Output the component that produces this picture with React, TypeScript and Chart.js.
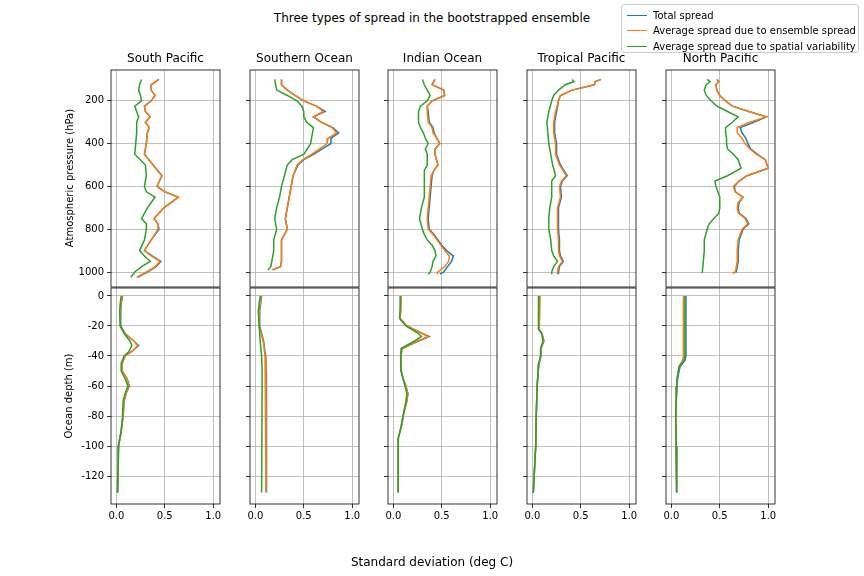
import React, { useEffect, useRef } from "react";
import { Chart, registerables } from "chart.js";
Chart.register(...registerables);

const regions = ["South Pacific", "Southern Ocean", "Indian Ocean", "Tropical Pacific", "North Pacific"];
const seriesNames = ["Total spread", "Average spread due to ensemble spread", "Average spread due to spatial variability"];
const colors = ["#1f77b4", "#ff7f0e", "#2ca02c"];
const pressureTicks = [200, 400, 600, 800, 1000];
const depthTicks = [0, -20, -40, -60, -80, -100, -120];
const xTicks = [0, 0.5, 1.0];

// ---- Atmosphere (pressure levels, hPa) ----
const spP = [100, 125, 150, 175, 200, 225, 250, 275, 300, 325, 350, 400, 450, 500, 550, 600, 625, 650, 700, 750, 775, 800, 850, 900, 925, 950, 975, 1000, 1025];
const spTotal = [0.44, 0.36, 0.36, 0.4, 0.36, 0.29, 0.3, 0.35, 0.3, 0.34, 0.32, 0.31, 0.29, 0.38, 0.47, 0.42, 0.5, 0.64, 0.49, 0.39, 0.43, 0.44, 0.36, 0.29, 0.37, 0.46, 0.41, 0.32, 0.22];
const spEns = [0.44, 0.36, 0.36, 0.4, 0.36, 0.29, 0.3, 0.35, 0.3, 0.34, 0.32, 0.31, 0.29, 0.38, 0.47, 0.42, 0.5, 0.64, 0.49, 0.39, 0.43, 0.43, 0.36, 0.29, 0.36, 0.45, 0.4, 0.31, 0.21];
const spSpat = [0.26, 0.24, 0.23, 0.25, 0.26, 0.19, 0.21, 0.23, 0.21, 0.21, 0.21, 0.2, 0.19, 0.3, 0.31, 0.29, 0.31, 0.4, 0.32, 0.26, 0.31, 0.31, 0.29, 0.24, 0.29, 0.35, 0.26, 0.19, 0.15];

const soP = [100, 125, 150, 175, 200, 225, 250, 275, 300, 325, 350, 375, 400, 450, 475, 500, 550, 600, 650, 700, 750, 800, 850, 900, 950, 975, 990];
const soTotal = [0.27, 0.27, 0.33, 0.41, 0.5, 0.63, 0.72, 0.6, 0.68, 0.8, 0.86, 0.78, 0.78, 0.6, 0.5, 0.44, 0.39, 0.37, 0.35, 0.33, 0.31, 0.33, 0.27, 0.27, 0.27, 0.26, 0.18];
const soEns = [0.27, 0.27, 0.33, 0.41, 0.5, 0.63, 0.7, 0.6, 0.68, 0.79, 0.84, 0.75, 0.74, 0.58, 0.49, 0.43, 0.39, 0.37, 0.35, 0.33, 0.31, 0.33, 0.27, 0.27, 0.27, 0.26, 0.17];
const soSpat = [0.2, 0.21, 0.22, 0.33, 0.43, 0.48, 0.5, 0.5, 0.53, 0.6, 0.59, 0.58, 0.57, 0.5, 0.38, 0.33, 0.3, 0.27, 0.25, 0.22, 0.2, 0.22, 0.19, 0.19, 0.17, 0.16, 0.13];

const ioP = [100, 125, 150, 175, 200, 225, 250, 300, 325, 350, 375, 400, 425, 450, 500, 525, 550, 600, 650, 700, 750, 800, 825, 850, 875, 900, 925, 950, 975, 1000, 1010];
const ioTotal = [0.43, 0.4, 0.52, 0.53, 0.4, 0.35, 0.36, 0.37, 0.41, 0.42, 0.45, 0.48, 0.43, 0.43, 0.46, 0.42, 0.4, 0.39, 0.38, 0.37, 0.36, 0.37, 0.42, 0.46, 0.5, 0.55, 0.62, 0.6, 0.56, 0.52, 0.48];
const ioEns = [0.43, 0.4, 0.52, 0.53, 0.4, 0.35, 0.35, 0.36, 0.4, 0.41, 0.45, 0.48, 0.43, 0.43, 0.46, 0.42, 0.39, 0.38, 0.37, 0.36, 0.35, 0.36, 0.41, 0.45, 0.49, 0.53, 0.58, 0.57, 0.53, 0.46, 0.45];
const ioSpat = [0.3, 0.32, 0.35, 0.38, 0.35, 0.28, 0.26, 0.26, 0.28, 0.31, 0.33, 0.36, 0.33, 0.35, 0.35, 0.32, 0.32, 0.32, 0.32, 0.29, 0.27, 0.3, 0.32, 0.35, 0.4, 0.43, 0.44, 0.41, 0.4, 0.38, 0.36];

const tpP = [100, 110, 125, 150, 175, 200, 250, 300, 350, 400, 450, 500, 550, 575, 600, 650, 700, 750, 800, 850, 900, 925, 950, 975, 1000, 1010];
const tpTotal = [0.71, 0.65, 0.64, 0.41, 0.29, 0.27, 0.25, 0.23, 0.23, 0.25, 0.25, 0.29, 0.36, 0.31, 0.29, 0.3, 0.27, 0.27, 0.27, 0.28, 0.28, 0.29, 0.32, 0.28, 0.27, 0.27];
const tpEns = [0.71, 0.65, 0.64, 0.41, 0.29, 0.27, 0.24, 0.22, 0.22, 0.24, 0.24, 0.28, 0.35, 0.3, 0.28, 0.29, 0.26, 0.26, 0.26, 0.27, 0.27, 0.28, 0.31, 0.27, 0.26, 0.26];
const tpSpat = [0.41, 0.43, 0.34, 0.27, 0.22, 0.2, 0.17, 0.15, 0.16, 0.17, 0.19, 0.21, 0.24, 0.2, 0.2, 0.2, 0.18, 0.17, 0.17, 0.19, 0.2, 0.22, 0.26, 0.22, 0.2, 0.2];

const npP = [100, 110, 125, 150, 175, 200, 225, 250, 275, 300, 325, 350, 375, 400, 425, 450, 475, 515, 550, 575, 600, 625, 650, 675, 700, 725, 750, 775, 800, 850, 900, 950, 1000, 1005];
const npTotal = [0.47, 0.49, 0.46, 0.47, 0.5, 0.56, 0.63, 0.8, 0.98, 0.85, 0.71, 0.73, 0.77, 0.79, 0.82, 0.89, 0.97, 1.0, 0.78, 0.7, 0.65, 0.66, 0.74, 0.7, 0.69, 0.7, 0.77, 0.8, 0.74, 0.7, 0.69, 0.69, 0.67, 0.64];
const npEns = [0.47, 0.49, 0.46, 0.47, 0.5, 0.56, 0.63, 0.8, 0.98, 0.81, 0.68, 0.68, 0.73, 0.76, 0.81, 0.88, 0.97, 1.0, 0.78, 0.7, 0.64, 0.66, 0.74, 0.69, 0.68, 0.69, 0.76, 0.79, 0.73, 0.69, 0.68, 0.68, 0.66, 0.63];
const npSpat = [0.37, 0.4, 0.36, 0.34, 0.36, 0.41, 0.47, 0.58, 0.69, 0.63, 0.56, 0.56, 0.57, 0.57, 0.58, 0.64, 0.69, 0.72, 0.58, 0.45, 0.46, 0.48, 0.5, 0.5, 0.5, 0.49, 0.44, 0.39, 0.37, 0.34, 0.34, 0.33, 0.32, 0.32];

// ---- Ocean (depth, m) ----
const spD = [0, -5, -10, -20, -25, -30, -33, -37, -40, -45, -50, -55, -60, -65, -70, -80, -90, -100, -110, -131];
const spOTotal = [0.065, 0.05, 0.045, 0.045, 0.09, 0.18, 0.23, 0.16, 0.09, 0.06, 0.06, 0.11, 0.135, 0.1, 0.08, 0.07, 0.05, 0.025, 0.02, 0.015];
const spOEns = [0.06, 0.05, 0.04, 0.04, 0.09, 0.18, 0.22, 0.16, 0.09, 0.06, 0.06, 0.11, 0.13, 0.1, 0.08, 0.07, 0.05, 0.02, 0.02, 0.01];
const spOSpat = [0.05, 0.04, 0.035, 0.04, 0.08, 0.14, 0.16, 0.13, 0.08, 0.05, 0.05, 0.09, 0.12, 0.09, 0.07, 0.065, 0.05, 0.02, 0.02, 0.01];

const soD = [0, -10, -20, -30, -40, -50, -60, -131];
const soOTotal = [0.065, 0.045, 0.045, 0.085, 0.105, 0.115, 0.115, 0.115];
const soOEns = [0.06, 0.04, 0.04, 0.08, 0.1, 0.11, 0.11, 0.11];
const soOSpat = [0.05, 0.03, 0.04, 0.05, 0.065, 0.07, 0.07, 0.065];

const ioD = [0, -10, -15, -20, -25, -27, -30, -35, -40, -50, -55, -60, -65, -70, -75, -80, -85, -90, -95, -100, -131];
const ioOTotal = [0.08, 0.075, 0.07, 0.14, 0.3, 0.37, 0.26, 0.09, 0.08, 0.08, 0.1, 0.13, 0.15, 0.14, 0.12, 0.1, 0.09, 0.07, 0.05, 0.05, 0.05];
const ioOEns = [0.08, 0.075, 0.07, 0.14, 0.3, 0.36, 0.25, 0.09, 0.08, 0.08, 0.1, 0.13, 0.15, 0.14, 0.12, 0.1, 0.09, 0.07, 0.05, 0.05, 0.05];
const ioOSpat = [0.07, 0.07, 0.065, 0.13, 0.26, 0.29, 0.22, 0.08, 0.075, 0.08, 0.1, 0.12, 0.14, 0.13, 0.115, 0.1, 0.085, 0.07, 0.05, 0.05, 0.05];

const tpD = [0, -10, -20, -22, -25, -30, -35, -40, -45, -50, -60, -80, -100, -131];
const tpOTotal = [0.075, 0.075, 0.07, 0.065, 0.1, 0.12, 0.09, 0.09, 0.07, 0.06, 0.05, 0.04, 0.035, 0.01];
const tpOEns = [0.08, 0.075, 0.07, 0.065, 0.1, 0.115, 0.09, 0.085, 0.07, 0.06, 0.05, 0.04, 0.035, 0.01];
const tpOSpat = [0.065, 0.065, 0.065, 0.06, 0.095, 0.11, 0.085, 0.085, 0.065, 0.06, 0.05, 0.04, 0.035, 0.01];

const npD = [0, -40, -43, -47, -55, -60, -70, -80, -100, -131];
const npOTotal = [0.15, 0.15, 0.14, 0.09, 0.065, 0.06, 0.05, 0.045, 0.05, 0.055];
const npOEns = [0.125, 0.125, 0.115, 0.08, 0.06, 0.055, 0.05, 0.045, 0.05, 0.055];
const npOSpat = [0.14, 0.14, 0.13, 0.08, 0.06, 0.055, 0.05, 0.045, 0.05, 0.055];

const atmos = [
  [spP, spTotal, spEns, spSpat],
  [soP, soTotal, soEns, soSpat],
  [ioP, ioTotal, ioEns, ioSpat],
  [tpP, tpTotal, tpEns, tpSpat],
  [npP, npTotal, npEns, npSpat],
];
const ocean = [
  [spD, spOTotal, spOEns, spOSpat],
  [soD, soOTotal, soOEns, soOSpat],
  [ioD, ioOTotal, ioOEns, ioOSpat],
  [tpD, tpOTotal, tpOEns, tpOSpat],
  [npD, npOTotal, npOEns, npOSpat],
];

const FONT = "'DejaVu Sans', sans-serif";
const colLeft = [111, 250, 388, 527, 666];
const PW = 109;
const LM = 45, RM = 6, TM = 8, BM = 25;

const framePlugin = {
  id: "frame",
  afterDraw(chart: any) {
    const { ctx, chartArea: a } = chart;
    ctx.save();
    ctx.strokeStyle = "#000";
    ctx.lineWidth = 0.8;
    ctx.strokeRect(a.left, a.top, a.right - a.left, a.bottom - a.top);
    ctx.restore();
  },
};

function Panel({ col, row }: { col: number; row: number }) {
  const ref = useRef<HTMLCanvasElement>(null);
  const top = row === 0 ? 69 : 287;
  const ph = row === 0 ? 218 : 217;
  useEffect(() => {
    const d = row === 0 ? atmos[col] : ocean[col];
    const ys = d[0] as number[];
    const datasets = [1, 2, 3].map((k) => ({
      label: seriesNames[k - 1],
      data: ys.map((y, i) => ({ x: (d[k] as number[])[i], y })),
      borderColor: colors[k - 1],
      backgroundColor: colors[k - 1],
      borderWidth: 1.5,
      pointRadius: 0,
      showLine: true,
      tension: 0,
      order: 3 - k,
    }));
    const yTicks = row === 0 ? pressureTicks : depthTicks;
    const chart = new Chart(ref.current!, {
      type: "scatter",
      data: { datasets },
      plugins: [framePlugin],
      options: {
        animation: false,
        responsive: false,
        events: [],
        layout: { autoPadding: false, padding: { top: TM, right: RM, left: 0, bottom: 0 } },
        plugins: { legend: { display: false }, tooltip: { enabled: false } },
        scales: {
          x: {
            type: "linear",
            min: -0.055,
            max: 1.07,
            afterFit: (s: any) => { s.height = BM; },
            afterBuildTicks: (s: any) => { s.ticks = xTicks.map((v) => ({ value: v })); },
            border: { display: false },
            grid: { color: "#b0b0b0", lineWidth: 0.8, tickColor: "#000", tickLength: row === 1 ? 4 : 0 },
            ticks: {
              color: "#000",
              font: { family: FONT, size: 10 },
              padding: 2,
              maxRotation: 0,
              callback: (v: any) => (row === 1 ? Number(v).toFixed(1) : ""),
            },
          },
          y: {
            type: "linear",
            reverse: row === 0,
            min: row === 0 ? 56 : -138.6,
            max: row === 0 ? 1070 : 5.3,
            afterFit: (s: any) => { s.width = LM; },
            afterBuildTicks: (s: any) => { s.ticks = yTicks.map((v) => ({ value: v })); },
            border: { display: false },
            grid: { color: "#b0b0b0", lineWidth: 0.8, tickColor: "#000", tickLength: 4 },
            ticks: {
              color: "#000",
              font: { family: FONT, size: 10 },
              padding: 3,
              callback: (v: any) => (col === 0 ? String(v) : ""),
            },
          },
        },
      } as any,
    });
    return () => chart.destroy();
  }, [col, row]);
  const w = LM + PW + RM;
  const h = TM + ph + BM;
  return (
    <canvas
      ref={ref}
      width={w}
      height={h}
      style={{ position: "absolute", left: colLeft[col] - LM, top: top - TM, width: w, height: h }}
    />
  );
}

export default function App() {
  const txt: React.CSSProperties = { position: "absolute", fontFamily: FONT, color: "#000", whiteSpace: "nowrap" };
  return (
    <div style={{ position: "absolute", left: 0, top: 0, width: 864, height: 576, background: "#fff", overflow: "hidden" }}>
      {[1, 0].map((r) => [0, 1, 2, 3, 4].map((c) => <Panel key={r + "-" + c} col={c} row={r} />))}
      <div style={{ ...txt, fontSize: 12, left: 432, top: 11, transform: "translateX(-50%)" }}>
        Three types of spread in the bootstrapped ensemble
      </div>
      {regions.map((n, i) => (
        <div key={n} style={{ ...txt, fontSize: 12, left: colLeft[i] + PW / 2, top: 51, transform: "translateX(-50%)" }}>
          {n}
        </div>
      ))}
      <div style={{ ...txt, fontSize: 10, left: 69, top: 178, transform: "translate(-50%,-50%) rotate(-90deg)" }}>
        Atmospheric pressure (hPa)
      </div>
      <div style={{ ...txt, fontSize: 10, left: 68, top: 396, transform: "translate(-50%,-50%) rotate(-90deg)" }}>
        Ocean depth (m)
      </div>
      <div style={{ ...txt, fontSize: 12, left: 432, top: 555, transform: "translateX(-50%)" }}>
        Standard deviation (deg C)
      </div>
      <div
        style={{
          position: "absolute", left: 621, top: 4, width: 236, height: 47, background: "rgba(255,255,255,0.8)",
          border: "1px solid #ccc", borderRadius: 3,
        }}
      >
        {seriesNames.map((n, i) => (
          <div key={n} style={{ position: "absolute", left: 5, top: 3 + i * 15.5, height: 14, display: "flex", alignItems: "center" }}>
            <div style={{ width: 20, height: 0, borderTop: `1.5px solid ${colors[i]}`, marginRight: 6 }} />
            <span style={{ fontFamily: FONT, fontSize: 10, color: "#000", whiteSpace: "nowrap" }}>{n}</span>
          </div>
        ))}
      </div>
    </div>
  );
}
